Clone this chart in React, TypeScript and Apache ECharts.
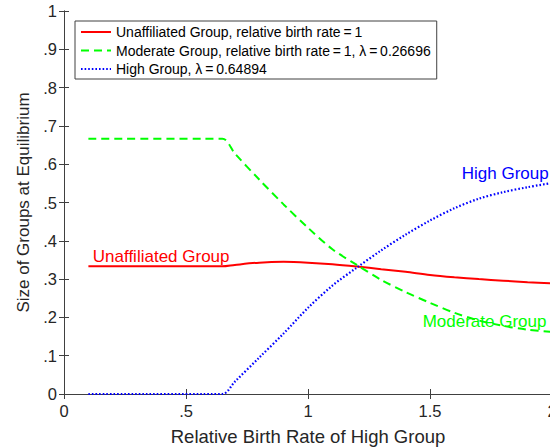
import React, { useEffect, useRef } from "react";
import * as echarts from "echarts";

// Relative birth rate of the High group (x)
const xValues = [0.1, 0.649, 0.7, 0.8, 0.9, 1.0, 1.1, 1.2, 1.3, 1.4, 1.5, 1.6, 1.7, 1.8, 1.9, 2.0];
// Equilibrium sizes
const unaffiliated = [0.3333, 0.3333, 0.337, 0.343, 0.345, 0.343, 0.339, 0.333, 0.326, 0.319, 0.311, 0.305, 0.3, 0.296, 0.292, 0.289];
const moderate = [0.6667, 0.6667, 0.628, 0.56, 0.495, 0.434, 0.378, 0.337, 0.298, 0.266, 0.238, 0.212, 0.192, 0.178, 0.168, 0.162];
const high = [0, 0, 0.032, 0.095, 0.158, 0.225, 0.283, 0.33, 0.375, 0.416, 0.453, 0.485, 0.51, 0.527, 0.54, 0.551];

const legendNames = [
  "Unaffiliated Group, relative birth rate\u2009=\u20091",
  "Moderate Group, relative birth rate\u2009=\u20091, \u03bb\u2009=\u20090.26696",
  "High Group, \u03bb\u2009=\u20090.64894",
];
const curveLabels = ["Unaffiliated Group", "Moderate Group", "High Group"];
const colors = ["#ff0000", "#00ff00", "#0000ff"];

const xTitle = "Relative Birth Rate of High Group";
const yTitle = "Size of Groups at Equilibrium";

const FONT = "'Liberation Sans', Arial, Helvetica, sans-serif";
const AXIS = "#404040";
const TEXT = "#262626";

const fmt = (v: number) => {
  if (Math.abs(v) < 1e-9) return "0";
  const s = String(Math.round(v * 10) / 10);
  return s.startsWith("0.") ? s.slice(1) : s;
};

const pairs = (ys: number[]) => xValues.map((x, i) => [x, ys[i]]);

export default function App() {
  const ref = useRef<HTMLDivElement>(null);
  useEffect(() => {
    if (!ref.current) return;
    const chart = echarts.init(ref.current, undefined, { renderer: "svg" });
    const axisCommon = {
      type: "value" as const,
      axisLine: { show: true, lineStyle: { color: AXIS, width: 1 } },
      axisTick: { show: true, inside: true, length: 5, lineStyle: { color: AXIS } },
      splitLine: { show: false },
    };
    const label = (text: string, coord: number[], color: string) => ({
      coord,
      value: text,
      symbol: "circle",
      symbolSize: 0,
      label: {
        show: true,
        formatter: text,
        position: [0, 0],
        align: "left",
        verticalAlign: "middle",
        color,
        fontSize: 17,
        fontFamily: FONT,
      },
    });
    chart.setOption({
      animation: false,
      backgroundColor: "#ffffff",
      textStyle: { fontFamily: FONT },
      grid: {
        left: 64,
        top: 11,
        width: 488,
        height: 383,
        containLabel: false,
        outerBoundsMode: "none",
      },
      legend: {
        orient: "vertical",
        left: 75,
        top: 21,
        data: legendNames,
        itemWidth: 30,
        itemHeight: 14,
        itemGap: 4.5,
        padding: [4, 6, 3, 5],
        borderColor: AXIS,
        borderWidth: 1,
        backgroundColor: "#ffffff",
        itemStyle: { opacity: 0, borderWidth: 0 },
        textStyle: { fontSize: 14, color: "#000", fontFamily: FONT },
        selectedMode: false,
      },
      xAxis: [
        {
          ...axisCommon,
          min: 0,
          max: 2,
          interval: 0.5,
          position: "bottom",
          axisLabel: { formatter: fmt, fontSize: 16.5, color: TEXT, margin: 8, fontFamily: FONT },
          name: xTitle,
          nameLocation: "middle",
          nameGap: 33,
          nameTextStyle: { fontSize: 18.5, color: TEXT, fontFamily: FONT },
        },
        {
          ...axisCommon,
          min: 0,
          max: 2,
          interval: 0.5,
          position: "top",
          axisLabel: { show: false },
        },
      ],
      yAxis: [
        {
          ...axisCommon,
          min: 0,
          max: 1,
          interval: 0.1,
          position: "left",
          axisLabel: { formatter: fmt, fontSize: 16.5, color: TEXT, margin: 7, fontFamily: FONT },
          name: yTitle,
          nameLocation: "middle",
          nameGap: 32,
          nameTextStyle: { fontSize: 17, color: TEXT, fontFamily: FONT },
        },
        {
          ...axisCommon,
          min: 0,
          max: 1,
          interval: 0.1,
          position: "right",
          axisLabel: { show: false },
        },
      ],
      series: [
        {
          name: legendNames[0],
          type: "line",
          data: pairs(unaffiliated),
          smooth: 0.3,
          symbol: "none",
          color: colors[0],
          lineStyle: { color: colors[0], width: 2 },
          markPoint: { silent: true, data: [label(curveLabels[0], [0.118, 0.36], colors[0])] },
        },
        {
          name: legendNames[1],
          type: "line",
          data: pairs(moderate),
          smooth: 0.3,
          symbol: "none",
          color: colors[1],
          lineStyle: { color: colors[1], width: 2, type: [8, 5] },
          markPoint: { silent: true, data: [label(curveLabels[1], [1.47, 0.189], colors[1])] },
        },
        {
          name: legendNames[2],
          type: "line",
          data: pairs(high),
          smooth: 0.3,
          symbol: "none",
          color: colors[2],
          lineStyle: { color: colors[2], width: 2.2, type: [1.6, 2] },
          markPoint: { silent: true, data: [label(curveLabels[2], [1.63, 0.577], colors[2])] },
        },
      ],
    });
    return () => chart.dispose();
  }, []);
  return (
    <div
      ref={ref}
      style={{ position: "fixed", left: 0, top: 0, width: 550, height: 448, background: "#fff" }}
    />
  );
}
